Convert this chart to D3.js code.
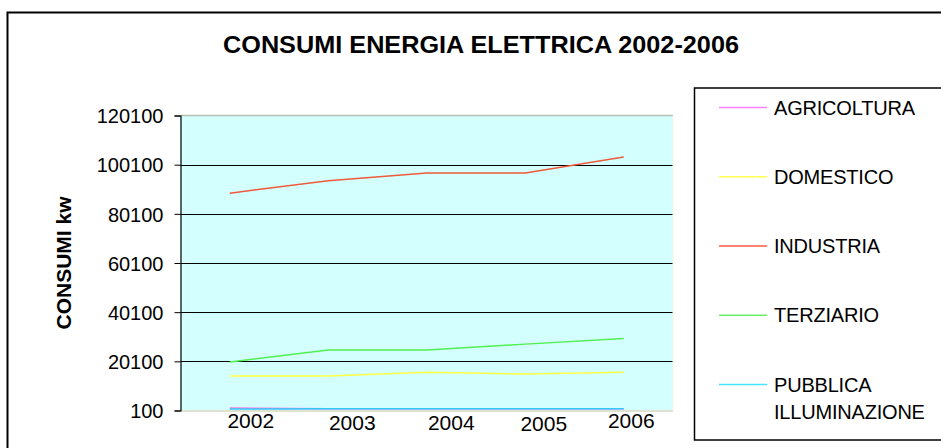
<!DOCTYPE html>
<html>
<head>
<meta charset="utf-8">
<script src="https://cdn.jsdelivr.net/npm/d3@7/dist/d3.min.js"></script>
<style>
  html, body { margin: 0; padding: 0; background: #fff; }
  svg { display: block; font-family: "Liberation Sans", Arial, sans-serif; }
</style>
</head>
<body>
<svg id="chart" width="941" height="448"></svg>
<script>
// Consumi di energia elettrica per settore, 2002-2006 (kw)
const years = ["2002", "2003", "2004", "2005", "2006"];
const seriesNames = ["AGRICOLTURA", "DOMESTICO", "INDUSTRIA", "TERZIARIO", "PUBBLICA ILLUMINAZIONE"];
const agricoltura = [1100, 800, 800, 800, 800];
const domestico = [14100, 14100, 15700, 14900, 15700];
const industria = [88500, 93600, 96700, 96700, 103200];
const terziario = [19800, 24700, 24700, 27100, 29400];
const pubblicaIlluminazione = [700, 800, 800, 800, 800];
const yTicks = [100, 20100, 40100, 60100, 80100, 100100, 120100];

const seriesValues = [agricoltura, domestico, industria, terziario, pubblicaIlluminazione];
const lineColors = ["#ff70f0", "#ffff40", "#ee5a3a", "#50f050", "#30c8f8"];
const legendColors = ["#ff80ff", "#ffff50", "#ff5a3c", "#66f066", "#40e8ff"];

const svg = d3.select("#chart");

// outer frame (runs off the right and bottom edges)
svg.append("rect")
  .attr("x", 7.5).attr("y", 12.5)
  .attr("width", 960).attr("height", 460)
  .attr("fill", "#fff").attr("stroke", "#000").attr("stroke-width", 2);

// title
svg.append("text")
  .attr("x", 481).attr("y", 53)
  .attr("text-anchor", "middle")
  .attr("font-size", 23).attr("font-weight", "bold")
  .attr("textLength", 516).attr("lengthAdjust", "spacingAndGlyphs")
  .text("CONSUMI ENERGIA ELETTRICA 2002-2006");

const plot = { left: 180.5, right: 673, top: 115.5, bottom: 410.5 };

const x = d3.scalePoint()
  .domain(years)
  .range([plot.left, plot.right])
  .padding(0.5);

const y = d3.scaleLinear()
  .domain([100, 120100])
  .range([plot.bottom, plot.top]);

// plot background
svg.append("rect")
  .attr("x", plot.left).attr("y", plot.top)
  .attr("width", plot.right - plot.left).attr("height", plot.bottom - plot.top)
  .attr("fill", "#d4ffff");

// gridlines
svg.append("g")
  .selectAll("line")
  .data(yTicks.filter(t => t !== 100 && t !== 120100))
  .join("line")
  .attr("x1", plot.left).attr("x2", plot.right)
  .attr("y1", d => Math.round(y(d)) + 0.5).attr("y2", d => Math.round(y(d)) + 0.5)
  .attr("stroke", "#000").attr("stroke-width", 1);

// plot area edges
svg.append("line")
  .attr("x1", plot.left).attr("x2", plot.right)
  .attr("y1", plot.top).attr("y2", plot.top)
  .attr("stroke", "#b4c2b4").attr("stroke-width", 1.5);
svg.append("line")
  .attr("x1", plot.left).attr("x2", plot.right)
  .attr("y1", plot.bottom + 0.5).attr("y2", plot.bottom + 0.5)
  .attr("stroke", "#d8d8c4").attr("stroke-width", 1.5);
svg.append("line")
  .attr("x1", plot.right).attr("x2", plot.right)
  .attr("y1", plot.top).attr("y2", plot.bottom)
  .attr("stroke", "#f4f8e0").attr("stroke-width", 1);

// y axis
const yAxis = svg.append("g")
  .attr("transform", `translate(${plot.left},0)`)
  .call(d3.axisLeft(y).tickValues(yTicks).tickSize(6).tickPadding(11).tickFormat(d3.format("d")));
yAxis.select(".domain").attr("stroke", "#000").attr("stroke-width", 1.2);
yAxis.selectAll(".tick line").attr("stroke", "#000");
yAxis.selectAll(".tick text")
  .attr("font-size", 20).attr("fill", "#000")
  .attr("font-family", "Liberation Sans, Arial, sans-serif")
  .attr("dy", "0.36em");

// y axis title
svg.append("text")
  .attr("transform", "translate(71,263) rotate(-90)")
  .attr("text-anchor", "middle")
  .attr("font-size", 21).attr("font-weight", "bold")
  .text("CONSUMI kw");

// x axis labels, staggered slightly like the original layout
const labelNudge = [[21, 428], [24, 430], [24.5, 430], [18.5, 430.5], [7.5, 427.5]];
svg.append("g")
  .selectAll("text")
  .data(years)
  .join("text")
  .attr("x", (d, i) => x(d) + labelNudge[i][0])
  .attr("y", (d, i) => labelNudge[i][1])
  .attr("text-anchor", "middle")
  .attr("font-size", 21)
  .text(d => d);

// series lines
const line = d3.line()
  .x((d, i) => x(years[i]))
  .y(d => y(d));

svg.append("g")
  .selectAll("path")
  .data(seriesValues)
  .join("path")
  .attr("d", d => line(d))
  .attr("fill", "none")
  .attr("stroke", (d, i) => lineColors[i])
  .attr("stroke-width", 1.5);

// legend
const legend = svg.append("g");
legend.append("rect")
  .attr("x", 694.5).attr("y", 88)
  .attr("width", 300).attr("height", 352)
  .attr("fill", "#fff").attr("stroke", "#000").attr("stroke-width", 1.5);

const legendRowY = d3.scaleLinear().domain([0, 4]).range([107.5, 384.5]);
const items = legend.selectAll("g.item")
  .data(seriesNames)
  .join("g")
  .attr("class", "item")
  .attr("transform", (d, i) => `translate(0,${legendRowY(i)})`);
items.append("line")
  .attr("x1", 719).attr("x2", 767)
  .attr("y1", 0).attr("y2", 0)
  .attr("stroke", (d, i) => legendColors[i])
  .attr("stroke-width", 1.5);
items.append("text")
  .attr("x", 774)
  .attr("font-size", 20)
  .attr("letter-spacing", -0.2)
  .each(function(d) {
    const words = d.split(" ");
    const t = d3.select(this);
    if (words.length > 1) {
      t.append("tspan").attr("x", 774).attr("y", 0).attr("dy", "0.36em").text(words[0]);
      t.append("tspan").attr("x", 774).attr("y", 27).attr("dy", "0.36em").text(words.slice(1).join(" "));
    } else {
      t.append("tspan").attr("x", 774).attr("y", 0).attr("dy", "0.36em").text(d);
    }
  });
</script>
</body>
</html>
